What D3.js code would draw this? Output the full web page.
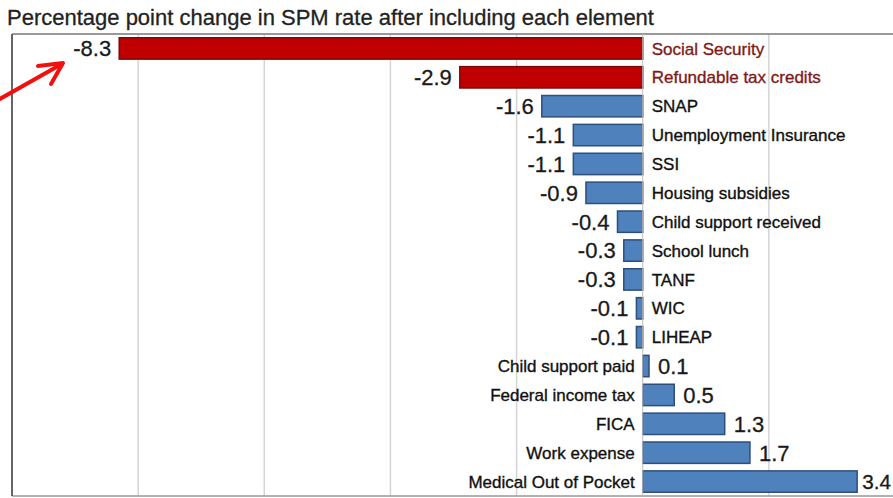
<!DOCTYPE html>
<html>
<head>
<meta charset="utf-8">
<script src="https://cdn.jsdelivr.net/npm/d3@7"></script>
<style>
  body { margin: 0; background: #fff; }
  svg { display: block; font-family: "Liberation Sans", Arial, sans-serif; }
</style>
</head>
<body>
<div id="chart"></div>
<script>
// categories, top to bottom
const categories = ["Social Security", "Refundable tax credits", "SNAP", "Unemployment Insurance",
  "SSI", "Housing subsidies", "Child support received", "School lunch", "TANF", "WIC", "LIHEAP",
  "Child support paid", "Federal income tax", "FICA", "Work expense", "Medical Out of Pocket"];
// percentage point change in SPM rate
const values = [-8.3, -2.9, -1.6, -1.1, -1.1, -0.9, -0.4, -0.3, -0.3, -0.1, -0.1, 0.1, 0.5, 1.3, 1.7, 3.4];
// highlighted (red) elements
const highlighted = ["Social Security", "Refundable tax credits"];
const gridTicks = [-8, -6, -4, -2, 2];

const width = 893;
const height = 498;

const svg = d3.select("#chart")
  .append("svg")
  .attr("width", width)
  .attr("height", height);

const plotLeft = 12, plotRight = 895, plotTop = 34, plotBottom = 496;

const x = d3.scaleLinear()
  .domain([-10, 4])
  .range([plotLeft, plotRight]);

const y = d3.scaleBand()
  .domain(categories)
  .range([plotTop, plotBottom])
  .paddingInner(0.26)
  .paddingOuter(0.13);

const data = categories.map((c, i) => ({ name: c, value: values[i] }));

// title
svg.append("text")
  .attr("x", 7)
  .attr("y", 25)
  .style("font-size", "22px")
  .style("fill", "#222")
  .style("stroke", "#222")
  .style("stroke-width", 0.3)
  .text("Percentage point change in SPM rate after including each element");

// gridlines
svg.selectAll(".grid")
  .data(gridTicks)
  .enter()
  .append("line")
  .attr("class", "grid")
  .attr("x1", d => x(d))
  .attr("x2", d => x(d))
  .attr("y1", plotTop)
  .attr("y2", plotBottom)
  .attr("stroke", "#d4d4d4")
  .attr("stroke-width", 1.5);

// frame
svg.append("line")
  .attr("x1", plotLeft).attr("x2", width)
  .attr("y1", plotTop).attr("y2", plotTop)
  .attr("stroke", "#777").attr("stroke-width", 1.5);
svg.append("line")
  .attr("x1", plotLeft).attr("x2", width)
  .attr("y1", plotBottom).attr("y2", plotBottom)
  .attr("stroke", "#999").attr("stroke-width", 1.5);
svg.append("line")
  .attr("x1", plotLeft).attr("x2", plotLeft)
  .attr("y1", plotTop).attr("y2", plotBottom)
  .attr("stroke", "#666").attr("stroke-width", 2);

// bars
svg.selectAll(".bar")
  .data(data)
  .enter()
  .append("rect")
  .attr("class", "bar")
  .attr("x", d => x(Math.min(0, d.value)))
  .attr("y", d => y(d.name))
  .attr("width", d => Math.abs(x(d.value) - x(0)))
  .attr("height", y.bandwidth())
  .attr("fill", d => highlighted.includes(d.name) ? "#c00000" : "#4f81bd")
  .attr("stroke", d => highlighted.includes(d.name) ? "#7a0a0a" : "#2d4f7c")
  .attr("stroke-width", 1.5);

// zero axis
svg.append("line")
  .attr("x1", x(0)).attr("x2", x(0))
  .attr("y1", plotTop).attr("y2", plotBottom)
  .attr("stroke", "#bbb")
  .attr("stroke-width", 1);

// value labels
const valueLabels = svg.selectAll(".valueLabel")
  .data(data)
  .enter()
  .append("text")
  .attr("class", "valueLabel")
  .attr("x", d => d.value < 0 ? x(d.value) - 8 : x(d.value) + 9)
  .attr("y", d => y(d.name) + y.bandwidth() / 2)
  .attr("dy", "0.36em")
  .attr("text-anchor", d => d.value < 0 ? "end" : "start")
  .style("font-size", "22px")
  .style("fill", "#1a1a1a")
  .style("stroke", "#1a1a1a")
  .style("stroke-width", 0.3)
  .text(d => d.value.toFixed(1));

// keep the last label inside the picture: tighter gap and smaller if needed
valueLabels.each(function (d) {
  if (d.value <= 0) return;
  const box = this.getBBox();
  if (box.x + box.width > width - 1) {
    const startX = x(d.value) + 5;
    d3.select(this).attr("x", startX);
    const room = width - 2 - startX;
    const size = Math.floor(22 * room / box.width * 10) / 10;
    d3.select(this).style("font-size", size + "px");
  }
});

// category labels
svg.selectAll(".catLabel")
  .data(data)
  .enter()
  .append("text")
  .attr("class", "catLabel")
  .attr("x", d => d.value < 0 ? x(0) + 9 : x(0) - 8)
  .attr("y", d => y(d.name) + y.bandwidth() / 2)
  .attr("dy", "0.36em")
  .attr("text-anchor", d => d.value < 0 ? "start" : "end")
  .style("font-size", "17px")
  .style("fill", d => highlighted.includes(d.name) ? "#7e1a1a" : "#111")
  .style("stroke", d => highlighted.includes(d.name) ? "#7e1a1a" : "#111")
  .style("stroke-width", 0.35)
  .text(d => d.name);

// red annotation arrow
const arrowTip = [63, 63];
svg.append("line")
  .attr("x1", -2).attr("y1", 100)
  .attr("x2", arrowTip[0] - 3).attr("y2", arrowTip[1] + 2)
  .attr("stroke", "#f01010")
  .attr("stroke-width", 4);
svg.append("path")
  .attr("d", `M38,66 L${arrowTip[0]},${arrowTip[1]} L51,84`)
  .attr("fill", "none")
  .attr("stroke", "#f01010")
  .attr("stroke-width", 4)
  .attr("stroke-linecap", "round")
  .attr("stroke-linejoin", "round");
</script>
</body>
</html>
